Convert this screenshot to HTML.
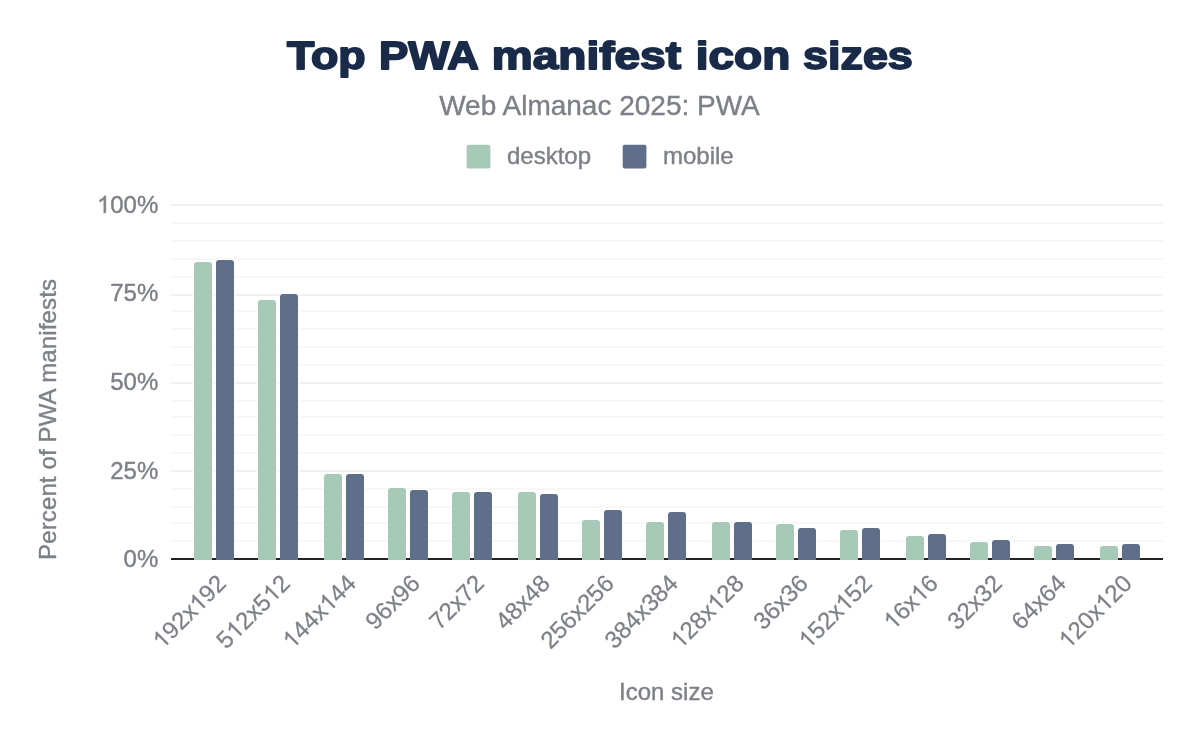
<!DOCTYPE html>
<html><head><meta charset="utf-8">
<style>
html,body{margin:0;padding:0;background:#fff;}
body{width:1200px;height:742px;overflow:hidden;position:relative;font-family:"Liberation Sans",sans-serif;}
svg{position:absolute;left:0;top:0;will-change:transform;}
.t24{font-family:"Liberation Sans",sans-serif;font-size:24px;fill:#7d8087;stroke:#7d8087;stroke-width:0.4px;}
.one{fill:#7d8087;stroke:#7d8087;stroke-width:34.13px;}
.hid{fill:none;stroke:none;}
.rot{stroke-width:0.25px;}
.rot1{stroke-width:21.33px;}
.title{font-family:"Liberation Sans",sans-serif;font-size:39px;font-weight:bold;fill:#1a2b49;stroke:#1a2b49;stroke-width:1.8px;stroke-linejoin:round;}
.sub{font-family:"Liberation Sans",sans-serif;font-size:28px;fill:#7d8087;stroke:#7d8087;stroke-width:0.4px;}
</style></head>
<body>
<svg width="1200" height="742" viewBox="0 0 1200 742">
<text x="286.9" y="68.5" textLength="78.70" lengthAdjust="spacingAndGlyphs" class="title">Top</text>
<text x="379.1" y="68.5" textLength="99.87" lengthAdjust="spacingAndGlyphs" class="title">PWA</text>
<text x="491.8" y="68.5" textLength="189.23" lengthAdjust="spacingAndGlyphs" class="title">manifest</text>
<text x="695.8" y="68.5" textLength="94.47" lengthAdjust="spacingAndGlyphs" class="title">icon</text>
<text x="803.0" y="68.5" textLength="109.82" lengthAdjust="spacingAndGlyphs" class="title">sizes</text>
<text x="599.5" y="114.7" text-anchor="middle" class="sub">Web Almanac 2025: PWA</text>
<rect x="466.6" y="144.8" width="23.8" height="23.7" rx="2" fill="#a7c9b8"/>
<text x="507" y="164" class="t24">desktop</text>
<rect x="622.7" y="144.8" width="23.7" height="23.7" rx="2" fill="#5f6f8a"/>
<text x="663" y="164" class="t24">mobile</text>
<rect x="171" y="540.00" width="992" height="2" fill="#f7f7f7"/>
<rect x="171" y="522.00" width="992" height="2" fill="#f7f7f7"/>
<rect x="171" y="506.00" width="992" height="2" fill="#f7f7f7"/>
<rect x="171" y="488.00" width="992" height="2" fill="#f7f7f7"/>
<rect x="171" y="470.00" width="992" height="2" fill="#f0f0f0"/>
<rect x="171" y="452.00" width="992" height="2" fill="#f7f7f7"/>
<rect x="171" y="434.00" width="992" height="2" fill="#f7f7f7"/>
<rect x="171" y="416.00" width="992" height="2" fill="#f7f7f7"/>
<rect x="171" y="400.00" width="992" height="2" fill="#f7f7f7"/>
<rect x="171" y="382.00" width="992" height="2" fill="#f0f0f0"/>
<rect x="171" y="364.00" width="992" height="2" fill="#f7f7f7"/>
<rect x="171" y="346.00" width="992" height="2" fill="#f7f7f7"/>
<rect x="171" y="328.00" width="992" height="2" fill="#f7f7f7"/>
<rect x="171" y="310.00" width="992" height="2" fill="#f7f7f7"/>
<rect x="171" y="294.00" width="992" height="2" fill="#f0f0f0"/>
<rect x="171" y="276.00" width="992" height="2" fill="#f7f7f7"/>
<rect x="171" y="258.00" width="992" height="2" fill="#f7f7f7"/>
<rect x="171" y="240.00" width="992" height="2" fill="#f7f7f7"/>
<rect x="171" y="222.00" width="992" height="2" fill="#f7f7f7"/>
<rect x="171" y="204.00" width="992" height="2" fill="#f0f0f0"/>
<rect x="171" y="558" width="992" height="2" fill="#222"/>
<path d="M193,558 V265 Q193,261 197,261 H209 Q213,261 213,265 V558 Z" fill="#fff"/>
<path d="M215,558 V263 Q215,259 219,259 H231 Q235,259 235,263 V558 Z" fill="#fff"/>
<path d="M257,558 V303 Q257,299 261,299 H273 Q277,299 277,303 V558 Z" fill="#fff"/>
<path d="M279,558 V297 Q279,293 283,293 H295 Q299,293 299,297 V558 Z" fill="#fff"/>
<path d="M323,558 V477 Q323,473 327,473 H339 Q343,473 343,477 V558 Z" fill="#fff"/>
<path d="M345,558 V477 Q345,473 349,473 H361 Q365,473 365,477 V558 Z" fill="#fff"/>
<path d="M387,558 V491 Q387,487 391,487 H403 Q407,487 407,491 V558 Z" fill="#fff"/>
<path d="M409,558 V493 Q409,489 413,489 H425 Q429,489 429,493 V558 Z" fill="#fff"/>
<path d="M451,558 V495 Q451,491 455,491 H467 Q471,491 471,495 V558 Z" fill="#fff"/>
<path d="M473,558 V495 Q473,491 477,491 H489 Q493,491 493,495 V558 Z" fill="#fff"/>
<path d="M517,558 V495 Q517,491 521,491 H533 Q537,491 537,495 V558 Z" fill="#fff"/>
<path d="M539,558 V497 Q539,493 543,493 H555 Q559,493 559,497 V558 Z" fill="#fff"/>
<path d="M581,558 V523 Q581,519 585,519 H597 Q601,519 601,523 V558 Z" fill="#fff"/>
<path d="M603,558 V513 Q603,509 607,509 H619 Q623,509 623,513 V558 Z" fill="#fff"/>
<path d="M645,558 V525 Q645,521 649,521 H661 Q665,521 665,525 V558 Z" fill="#fff"/>
<path d="M667,558 V515 Q667,511 671,511 H683 Q687,511 687,515 V558 Z" fill="#fff"/>
<path d="M711,558 V525 Q711,521 715,521 H727 Q731,521 731,525 V558 Z" fill="#fff"/>
<path d="M733,558 V525 Q733,521 737,521 H749 Q753,521 753,525 V558 Z" fill="#fff"/>
<path d="M775,558 V527 Q775,523 779,523 H791 Q795,523 795,527 V558 Z" fill="#fff"/>
<path d="M797,558 V531 Q797,527 801,527 H813 Q817,527 817,531 V558 Z" fill="#fff"/>
<path d="M839,558 V533 Q839,529 843,529 H855 Q859,529 859,533 V558 Z" fill="#fff"/>
<path d="M861,558 V531 Q861,527 865,527 H877 Q881,527 881,531 V558 Z" fill="#fff"/>
<path d="M905,558 V539 Q905,535 909,535 H921 Q925,535 925,539 V558 Z" fill="#fff"/>
<path d="M927,558 V537 Q927,533 931,533 H943 Q947,533 947,537 V558 Z" fill="#fff"/>
<path d="M969,558 V545 Q969,541 973,541 H985 Q989,541 989,545 V558 Z" fill="#fff"/>
<path d="M991,558 V543 Q991,539 995,539 H1007 Q1011,539 1011,543 V558 Z" fill="#fff"/>
<path d="M1033,558 V549 Q1033,545 1037,545 H1049 Q1053,545 1053,549 V558 Z" fill="#fff"/>
<path d="M1055,558 V547 Q1055,543 1059,543 H1071 Q1075,543 1075,547 V558 Z" fill="#fff"/>
<path d="M1099,558 V549 Q1099,545 1103,545 H1115 Q1119,545 1119,549 V558 Z" fill="#fff"/>
<path d="M1121,558 V547 Q1121,543 1125,543 H1137 Q1141,543 1141,547 V558 Z" fill="#fff"/>
<path d="M194,560 V265 Q194,262 197,262 H209 Q212,262 212,265 V560 Z" fill="#a7c9b8"/>
<path d="M216,560 V263 Q216,260 219,260 H231 Q234,260 234,263 V560 Z" fill="#5f6f8a"/>
<path d="M258,560 V303 Q258,300 261,300 H273 Q276,300 276,303 V560 Z" fill="#a7c9b8"/>
<path d="M280,560 V297 Q280,294 283,294 H295 Q298,294 298,297 V560 Z" fill="#5f6f8a"/>
<path d="M324,560 V477 Q324,474 327,474 H339 Q342,474 342,477 V560 Z" fill="#a7c9b8"/>
<path d="M346,560 V477 Q346,474 349,474 H361 Q364,474 364,477 V560 Z" fill="#5f6f8a"/>
<path d="M388,560 V491 Q388,488 391,488 H403 Q406,488 406,491 V560 Z" fill="#a7c9b8"/>
<path d="M410,560 V493 Q410,490 413,490 H425 Q428,490 428,493 V560 Z" fill="#5f6f8a"/>
<path d="M452,560 V495 Q452,492 455,492 H467 Q470,492 470,495 V560 Z" fill="#a7c9b8"/>
<path d="M474,560 V495 Q474,492 477,492 H489 Q492,492 492,495 V560 Z" fill="#5f6f8a"/>
<path d="M518,560 V495 Q518,492 521,492 H533 Q536,492 536,495 V560 Z" fill="#a7c9b8"/>
<path d="M540,560 V497 Q540,494 543,494 H555 Q558,494 558,497 V560 Z" fill="#5f6f8a"/>
<path d="M582,560 V523 Q582,520 585,520 H597 Q600,520 600,523 V560 Z" fill="#a7c9b8"/>
<path d="M604,560 V513 Q604,510 607,510 H619 Q622,510 622,513 V560 Z" fill="#5f6f8a"/>
<path d="M646,560 V525 Q646,522 649,522 H661 Q664,522 664,525 V560 Z" fill="#a7c9b8"/>
<path d="M668,560 V515 Q668,512 671,512 H683 Q686,512 686,515 V560 Z" fill="#5f6f8a"/>
<path d="M712,560 V525 Q712,522 715,522 H727 Q730,522 730,525 V560 Z" fill="#a7c9b8"/>
<path d="M734,560 V525 Q734,522 737,522 H749 Q752,522 752,525 V560 Z" fill="#5f6f8a"/>
<path d="M776,560 V527 Q776,524 779,524 H791 Q794,524 794,527 V560 Z" fill="#a7c9b8"/>
<path d="M798,560 V531 Q798,528 801,528 H813 Q816,528 816,531 V560 Z" fill="#5f6f8a"/>
<path d="M840,560 V533 Q840,530 843,530 H855 Q858,530 858,533 V560 Z" fill="#a7c9b8"/>
<path d="M862,560 V531 Q862,528 865,528 H877 Q880,528 880,531 V560 Z" fill="#5f6f8a"/>
<path d="M906,560 V539 Q906,536 909,536 H921 Q924,536 924,539 V560 Z" fill="#a7c9b8"/>
<path d="M928,560 V537 Q928,534 931,534 H943 Q946,534 946,537 V560 Z" fill="#5f6f8a"/>
<path d="M970,560 V545 Q970,542 973,542 H985 Q988,542 988,545 V560 Z" fill="#a7c9b8"/>
<path d="M992,560 V543 Q992,540 995,540 H1007 Q1010,540 1010,543 V560 Z" fill="#5f6f8a"/>
<path d="M1034,560 V549 Q1034,546 1037,546 H1049 Q1052,546 1052,549 V560 Z" fill="#a7c9b8"/>
<path d="M1056,560 V547 Q1056,544 1059,544 H1071 Q1074,544 1074,547 V560 Z" fill="#5f6f8a"/>
<path d="M1100,560 V549 Q1100,546 1103,546 H1115 Q1118,546 1118,549 V560 Z" fill="#a7c9b8"/>
<path d="M1122,560 V547 Q1122,544 1125,544 H1137 Q1140,544 1140,547 V560 Z" fill="#5f6f8a"/>
<text x="158.3" y="567.2" text-anchor="end" class="t24">0%</text>
<text x="158.3" y="478.5" text-anchor="end" class="t24">25%</text>
<text x="158.3" y="390" text-anchor="end" class="t24">50%</text>
<text x="158.3" y="300.6" text-anchor="end" class="t24">75%</text>
<text x="158.3" y="213" text-anchor="end" class="t24"><tspan class="hid">1</tspan>00%</text><path d="M763 0L583 0L583 1147Q518 1085 412 1023Q306 961 222 930L222 1104Q373 1175 486 1276Q599 1377 646 1472L763 1472Z" transform="translate(96.917 213) scale(0.011719 -0.011719)" class="one"/>
<g transform="rotate(-45 227.5 584.8)"><text x="227.5" y="584.8" text-anchor="end" class="t24 rot"><tspan class="hid">1</tspan>92x<tspan class="hid">1</tspan>92</text><path d="M763 0L583 0L583 1147Q518 1085 412 1023Q306 961 222 930L222 1104Q373 1175 486 1276Q599 1377 646 1472L763 1472Z" transform="translate(135.414 584.8) scale(0.011719 -0.011719)" class="one rot1"/><path d="M763 0L583 0L583 1147Q518 1085 412 1023Q306 961 222 930L222 1104Q373 1175 486 1276Q599 1377 646 1472L763 1472Z" transform="translate(187.457 584.8) scale(0.011719 -0.011719)" class="one rot1"/></g>
<g transform="rotate(-45 291.5 584.8)"><text x="291.5" y="584.8" text-anchor="end" class="t24 rot">5<tspan class="hid">1</tspan>2x5<tspan class="hid">1</tspan>2</text><path d="M763 0L583 0L583 1147Q518 1085 412 1023Q306 961 222 930L222 1104Q373 1175 486 1276Q599 1377 646 1472L763 1472Z" transform="translate(212.762 584.8) scale(0.011719 -0.011719)" class="one rot1"/><path d="M763 0L583 0L583 1147Q518 1085 412 1023Q306 961 222 930L222 1104Q373 1175 486 1276Q599 1377 646 1472L763 1472Z" transform="translate(264.805 584.8) scale(0.011719 -0.011719)" class="one rot1"/></g>
<g transform="rotate(-45 357.5 584.8)"><text x="357.5" y="584.8" text-anchor="end" class="t24 rot"><tspan class="hid">1</tspan>44x<tspan class="hid">1</tspan>44</text><path d="M763 0L583 0L583 1147Q518 1085 412 1023Q306 961 222 930L222 1104Q373 1175 486 1276Q599 1377 646 1472L763 1472Z" transform="translate(265.414 584.8) scale(0.011719 -0.011719)" class="one rot1"/><path d="M763 0L583 0L583 1147Q518 1085 412 1023Q306 961 222 930L222 1104Q373 1175 486 1276Q599 1377 646 1472L763 1472Z" transform="translate(317.457 584.8) scale(0.011719 -0.011719)" class="one rot1"/></g>
<g transform="rotate(-45 421.5 584.8)"><text x="421.5" y="584.8" text-anchor="end" class="t24 rot">96x96</text></g>
<g transform="rotate(-45 485.5 584.8)"><text x="485.5" y="584.8" text-anchor="end" class="t24 rot">72x72</text></g>
<g transform="rotate(-45 551.5 584.8)"><text x="551.5" y="584.8" text-anchor="end" class="t24 rot">48x48</text></g>
<g transform="rotate(-45 615.5 584.8)"><text x="615.5" y="584.8" text-anchor="end" class="t24 rot">256x256</text></g>
<g transform="rotate(-45 679.5 584.8)"><text x="679.5" y="584.8" text-anchor="end" class="t24 rot">384x384</text></g>
<g transform="rotate(-45 745.5 584.8)"><text x="745.5" y="584.8" text-anchor="end" class="t24 rot"><tspan class="hid">1</tspan>28x<tspan class="hid">1</tspan>28</text><path d="M763 0L583 0L583 1147Q518 1085 412 1023Q306 961 222 930L222 1104Q373 1175 486 1276Q599 1377 646 1472L763 1472Z" transform="translate(653.414 584.8) scale(0.011719 -0.011719)" class="one rot1"/><path d="M763 0L583 0L583 1147Q518 1085 412 1023Q306 961 222 930L222 1104Q373 1175 486 1276Q599 1377 646 1472L763 1472Z" transform="translate(705.457 584.8) scale(0.011719 -0.011719)" class="one rot1"/></g>
<g transform="rotate(-45 809.5 584.8)"><text x="809.5" y="584.8" text-anchor="end" class="t24 rot">36x36</text></g>
<g transform="rotate(-45 873.5 584.8)"><text x="873.5" y="584.8" text-anchor="end" class="t24 rot"><tspan class="hid">1</tspan>52x<tspan class="hid">1</tspan>52</text><path d="M763 0L583 0L583 1147Q518 1085 412 1023Q306 961 222 930L222 1104Q373 1175 486 1276Q599 1377 646 1472L763 1472Z" transform="translate(781.414 584.8) scale(0.011719 -0.011719)" class="one rot1"/><path d="M763 0L583 0L583 1147Q518 1085 412 1023Q306 961 222 930L222 1104Q373 1175 486 1276Q599 1377 646 1472L763 1472Z" transform="translate(833.457 584.8) scale(0.011719 -0.011719)" class="one rot1"/></g>
<g transform="rotate(-45 939.5 584.8)"><text x="939.5" y="584.8" text-anchor="end" class="t24 rot"><tspan class="hid">1</tspan>6x<tspan class="hid">1</tspan>6</text><path d="M763 0L583 0L583 1147Q518 1085 412 1023Q306 961 222 930L222 1104Q373 1175 486 1276Q599 1377 646 1472L763 1472Z" transform="translate(874.109 584.8) scale(0.011719 -0.011719)" class="one rot1"/><path d="M763 0L583 0L583 1147Q518 1085 412 1023Q306 961 222 930L222 1104Q373 1175 486 1276Q599 1377 646 1472L763 1472Z" transform="translate(912.805 584.8) scale(0.011719 -0.011719)" class="one rot1"/></g>
<g transform="rotate(-45 1003.5 584.8)"><text x="1003.5" y="584.8" text-anchor="end" class="t24 rot">32x32</text></g>
<g transform="rotate(-45 1067.5 584.8)"><text x="1067.5" y="584.8" text-anchor="end" class="t24 rot">64x64</text></g>
<g transform="rotate(-45 1133.5 584.8)"><text x="1133.5" y="584.8" text-anchor="end" class="t24 rot"><tspan class="hid">1</tspan>20x<tspan class="hid">1</tspan>20</text><path d="M763 0L583 0L583 1147Q518 1085 412 1023Q306 961 222 930L222 1104Q373 1175 486 1276Q599 1377 646 1472L763 1472Z" transform="translate(1041.414 584.8) scale(0.011719 -0.011719)" class="one rot1"/><path d="M763 0L583 0L583 1147Q518 1085 412 1023Q306 961 222 930L222 1104Q373 1175 486 1276Q599 1377 646 1472L763 1472Z" transform="translate(1093.457 584.8) scale(0.011719 -0.011719)" class="one rot1"/></g>
<text x="666.4" y="700" text-anchor="middle" class="t24">Icon size</text>
<text x="56" y="419.5" text-anchor="middle" class="t24" textLength="281" lengthAdjust="spacing" transform="rotate(-90 56 419.5)">Percent of PWA manifests</text>
</svg>
</body></html>
